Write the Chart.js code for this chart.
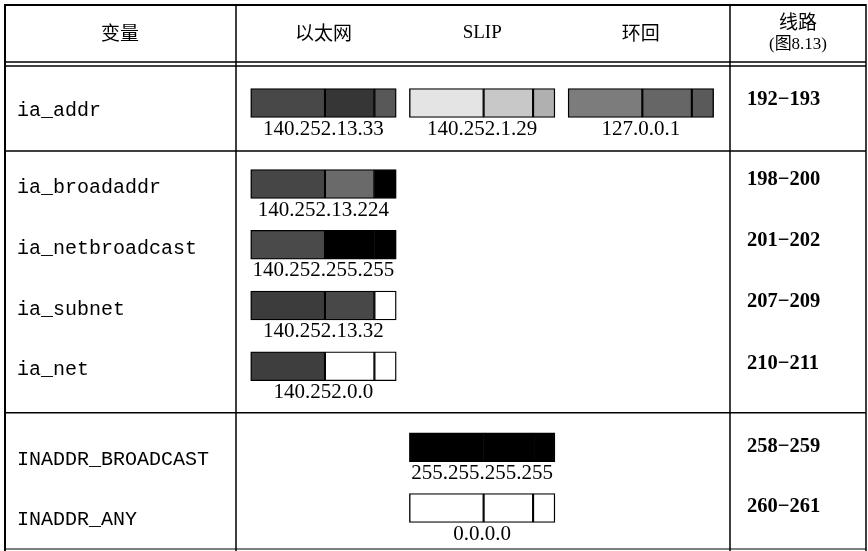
<!DOCTYPE html>
<html><head><meta charset="utf-8">
<script src="https://cdn.jsdelivr.net/npm/chart.js@4"></script>
<style>html,body{margin:0;padding:0;background:#fff}#wrap{width:868px;height:551px;position:relative}</style>
</head><body><div id="wrap"><canvas id="c" width="868" height="551"></canvas></div>
<script>
// ---- data ----
const headerVar = '变量';
const headerLines = ['线路', '(图8.13)'];
const columnNames = ['以太网', 'SLIP', '环回'];
const variables = ['ia_addr', 'ia_broadaddr', 'ia_netbroadcast', 'ia_subnet', 'ia_net', 'INADDR_BROADCAST', 'INADDR_ANY'];
const lineRanges = ['192\u2212193', '198\u2212200', '201\u2212202', '207\u2212209', '210\u2212211', '258\u2212259', '260\u2212261'];
const rowSlots = [0, 4, 7, 10, 13, 17, 20];          // row order, with gaps between groups
const barRow = [0, 0, 0, 1, 2, 3, 4, 5, 6];
const barColumn = [0, 1, 2, 0, 0, 0, 0, 1, 1];
const barAddress = ['140.252.13.33', '140.252.1.29', '127.0.0.1', '140.252.13.224', '140.252.255.255', '140.252.13.32', '140.252.0.0', '255.255.255.255', '0.0.0.0'];
const segmentShares = [0.51, 0.34, 0.15];             // network / subnet / host part of the box
const barSpan = 0.917;                                 // box width in column units

// ---- styles ----
const segmentShades = [
  ['#484848', '#363636', '#585858'],
  ['#e4e4e4', '#c8c8c8', '#b0b0b0'],
  ['#7c7c7c', '#666666', '#5a5a5a'],
  ['#464646', '#6a6a6a', '#000000'],
  ['#4a4a4a', '#000000', '#000000'],
  ['#3c3c3c', '#484848', '#ffffff'],
  ['#3e3e3e', '#ffffff', '#ffffff'],
  ['#000000', '#000000', '#000000'],
  ['#ffffff', '#ffffff', '#ffffff']
];
const varOffsets = [8, 4, 4, 4, 3, 12, 12];
const rangeOffsets = [-3, -4, -4, -4, -3, -1, -1];

const datasets = segmentShares.map((share, s) => {
  const start = segmentShares.slice(0, s).reduce((a, b) => a + b, 0);
  return {
    label: 'seg' + s,
    data: barRow.map((r, i) => ({ x: [barColumn[i] + start * barSpan, barColumn[i] + (start + share) * barSpan], y: rowSlots[r] })),
    backgroundColor: barRow.map((r, i) => segmentShades[i][s]),
    borderColor: '#000',
    borderWidth: 1.4,
    borderSkipped: false,
    barThickness: 29,
    grouped: false
  };
});

const tablePlugin = {
  id: 'table',
  afterDraw(chart) {
    const ctx = chart.ctx;
    const xs = chart.scales.x, ys = chart.scales.y;
    ctx.save();
    ctx.strokeStyle = '#000';
    const line = (x1, y1, x2, y2, w) => { ctx.lineWidth = w; ctx.beginPath(); ctx.moveTo(x1, y1); ctx.lineTo(x2, y2); ctx.stroke(); };
    // frame
    line(4, 5, 866, 5, 2);
    line(5, 4, 5, 551, 2);
    line(866, 4, 866, 551, 1.5);
    line(4, 549, 866, 549, 1.2);
    line(236, 5, 236, 551, 1.5);
    line(730, 5, 730, 551, 1.5);
    line(4, 62, 866, 62, 1.5);
    line(4, 66, 866, 66, 1.5);
    const sep1 = ys.getPixelForValue(2.37), sep2 = ys.getPixelForValue(15.3);
    line(5, sep1, 866, sep1, 1.5);
    line(5, sep2, 866, sep2, 1.5);
    // headers
    ctx.fillStyle = '#000';
    ctx.textAlign = 'center'; ctx.textBaseline = 'middle';
    ctx.font = '19px "Noto Sans CJK SC"';
    ctx.fillText(headerVar, 120, 33);
    columnNames.forEach((n, c) => {
      ctx.font = n === 'SLIP' ? '19px "Liberation Serif"' : '19px "Noto Sans CJK SC"';
      ctx.fillText(n, xs.getPixelForValue(c + barSpan / 2), 33);
    });
    ctx.font = '19px "Noto Sans CJK SC"';
    ctx.fillText(headerLines[0], 798, 22);
    ctx.font = '17px "Liberation Serif", "Noto Sans CJK SC"';
    ctx.fillText(headerLines[1], 798, 45);
    // variables and line ranges
    variables.forEach((v, r) => {
      const yc = ys.getPixelForValue(rowSlots[r]);
      ctx.textAlign = 'left';
      ctx.font = '20px "Liberation Mono"';
      ctx.fillText(v, 17, yc + varOffsets[r]);
      ctx.font = 'bold 20.5px "Liberation Serif"';
      ctx.fillText(lineRanges[r], 747, yc + rangeOffsets[r]);
    });
    // address labels
    ctx.textAlign = 'center';
    ctx.font = '21px "Liberation Serif"';
    barAddress.forEach((a, i) => {
      const xc = xs.getPixelForValue(barColumn[i] + barSpan / 2);
      const yc = ys.getPixelForValue(rowSlots[barRow[i]]);
      ctx.fillText(a, xc, yc + 26);
    });
    ctx.restore();
  }
};

const bg = { id: 'bg', beforeDraw(chart) { const c = chart.ctx; c.save(); c.fillStyle = '#fff'; c.fillRect(0, 0, chart.width, chart.height); c.restore(); } };

new Chart(document.getElementById('c'), {
  type: 'bar',
  data: { datasets },
  options: {
    indexAxis: 'y',
    responsive: false,
    animation: false,
    layout: { padding: 0 },
    plugins: { legend: { display: false }, tooltip: { enabled: false }, title: { display: false } },
    scales: {
      x: { type: 'linear', display: false, min: -1.5797, max: 3.8897 },
      y: { type: 'linear', display: false, reverse: true, min: -5.086, max: 22.124, offset: false }
    }
  },
  plugins: [bg, tablePlugin]
});
</script></body></html>
